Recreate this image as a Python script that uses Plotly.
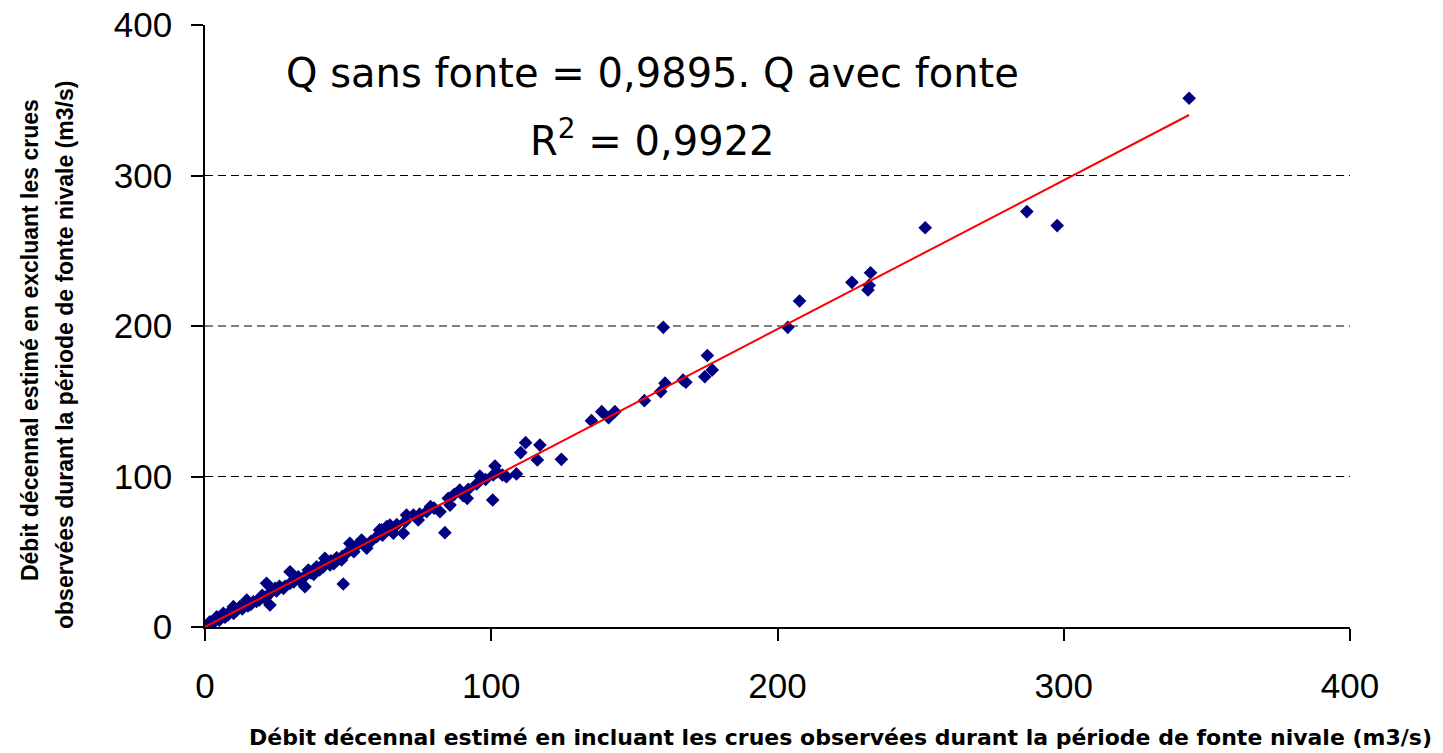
import plotly.graph_objects as go

# Data (m3/s)
q_avec = [0, 1.7, 2.5, 3, 4.1, 5, 5.5, 6.4, 7, 8, 8.7, 9.9, 10, 11, 12.2, 13, 14.6, 15, 16, 16.9,
          18, 19, 19.8, 20, 21, 21.5, 22.7, 22.7, 23, 24.5, 25, 26, 27.4, 28, 29.7, 29.7, 31, 32.6,
          33, 34.9, 35, 36.1, 37, 38, 39, 40, 41.3, 41.9, 42, 43.7, 44, 45, 46, 47.7, 48, 48.3,
          49.5, 50.6, 52, 53, 54.7, 56.5, 58, 60, 61, 61.7, 62, 63.5, 64.6, 65.8, 66, 67, 69.3,
          69.9, 70.4, 72.8, 74.5, 75, 77.4, 78.8, 80, 82.1, 83.8, 85, 85.6, 87, 89, 90.2, 91.6,
          92, 94.9, 96, 98, 100.5, 100.7, 101.3, 102, 103.9, 105.3, 108.8, 110.3, 112, 116.1,
          117, 124.5, 135, 138.6, 141, 143.2, 153.5, 159.2, 160.1, 160.7, 167, 168, 174.6, 175.5,
          177.2, 203.6, 207.7, 226, 231.6, 232, 232.5, 251.6, 287.1, 297.7, 343.8]
q_sans = [0.2, 3.5, 2, 4, 6.8, 4.5, 6, 9.1, 6.5, 8, 10.2, 13.5, 9, 11, 13.5, 12, 17.9, 14, 15, 16.8,
          17, 18, 20.1, 21, 19, 29, 22.4, 14.6, 23, 25.7, 24, 27, 25.7, 27, 29, 36.7, 30, 33.4,
          31, 26.8, 34, 37.9, 36, 35, 40, 38, 40, 45.6, 43, 41.2, 44, 42, 46, 44.5, 47, 28.6,
          49, 55.6, 50, 54, 57.8, 52.3, 57, 60, 64.5, 64.5, 61, 66.7, 67.8, 62.3, 66, 68, 62.3,
          70, 74.4, 74.4, 71.1, 75, 76.6, 80, 79, 76.6, 62.7, 85.5, 81, 88, 91, 87.3, 85.5,
          91.5, 95, 100.3, 98, 84.4, 101, 107, 103, 101, 99.9, 101.7, 115.9, 122.5, 111,
          120.9, 111.4, 137.1, 143.1, 139.1, 143.1, 150.4, 156.4, 199.1, 162, 164, 162.6, 166.3, 180.4,
          170.8, 199.1, 216.6, 229, 224, 227, 235.4, 265.3, 276, 266.7, 351.3]

slope = 0.9895
r2 = "0,9922"
x_ticks = [0, 100, 200, 300, 400]
y_ticks = [0, 100, 200, 300, 400]
grid_y = [100, 200, 300]

fit_x = [0, max(q_avec)]
fit_y = [slope * v for v in fit_x]

ARIAL = "Liberation Sans, Arial, sans-serif"
WIDE = "DejaVu Sans, Liberation Sans, sans-serif"

fig = go.Figure()
fig.add_trace(go.Scatter(
    x=q_avec, y=q_sans, mode="markers",
    marker=dict(symbol="diamond", size=10.5, color="#000080", line=dict(width=0)),
    showlegend=False, hoverinfo="x+y"))
fig.add_trace(go.Scatter(
    x=fit_x, y=fit_y, mode="lines",
    line=dict(color="#FF0000", width=2), showlegend=False, hoverinfo="skip"))

for g in grid_y:
    fig.add_shape(type="line", xref="paper", x0=0, x1=1, yref="y", y0=g, y1=g,
                  line=dict(color="black", width=1, dash="8px,5px"), layer="below")

fig.update_layout(
    width=1443, height=753,
    margin=dict(l=205, r=93, t=25, b=126, autoexpand=False),
    paper_bgcolor="white", plot_bgcolor="white",
    font=dict(family=ARIAL, color="black"),
    xaxis=dict(range=[0, 400], tickvals=x_ticks, showgrid=False, zeroline=False,
               showline=True, linecolor="black", linewidth=1.5, automargin=False,
               ticks="outside", ticklen=12, tickcolor="black", tickwidth=1.5,
               tickfont=dict(size=35, family=ARIAL, color="black"),
               ticklabelstandoff=15),
    yaxis=dict(range=[0, 400], tickvals=y_ticks, showgrid=False, zeroline=False,
               showline=True, linecolor="black", linewidth=1.5, automargin=False,
               ticks="outside", ticklen=12, tickcolor="black", tickwidth=1.5,
               tickfont=dict(size=35, family=ARIAL, color="black"),
               ticklabelstandoff=12),
    annotations=[
        dict(text="Q sans fonte = 0,9895. Q avec fonte", xref="paper", yref="paper",
             x=0.3904, y=0.920, xanchor="center", yanchor="middle", showarrow=False,
             font=dict(size=40, family=WIDE, color="black")),
        dict(text="R<sup>2</sup> = " + r2, xref="paper", yref="paper",
             x=0.3904, y=0.812, xanchor="center", yanchor="middle", showarrow=False,
             font=dict(size=40, family=WIDE, color="black")),
        dict(text="<b>Débit décennal estimé en incluant les crues observées durant la période de fonte nivale (m3/s)</b>",
             xref="paper", yref="paper", x=0.5546, y=-0.184, xanchor="center", yanchor="middle",
             showarrow=False, font=dict(size=22, family=WIDE, color="black")),
        dict(text="<b>Débit décennal estimé en excluant les crues</b>",
             xref="paper", yref="paper", x=-0.1528, y=0.4767, xanchor="center", yanchor="middle",
             textangle=-90, showarrow=False, font=dict(size=23, family=ARIAL, color="black")),
        dict(text="<b>observées durant la période de fonte nivale (m3/s)</b>",
             xref="paper", yref="paper", x=-0.1223, y=0.4518, xanchor="center", yanchor="middle",
             textangle=-90, showarrow=False, font=dict(size=23, family=ARIAL, color="black")),
    ],
)

# remove the browser's default 8px body margin so the figure sits at the page origin
fig.write_html("out.html", config={"displayModeBar": False},
               post_script="document.body.style.margin='0px';")
